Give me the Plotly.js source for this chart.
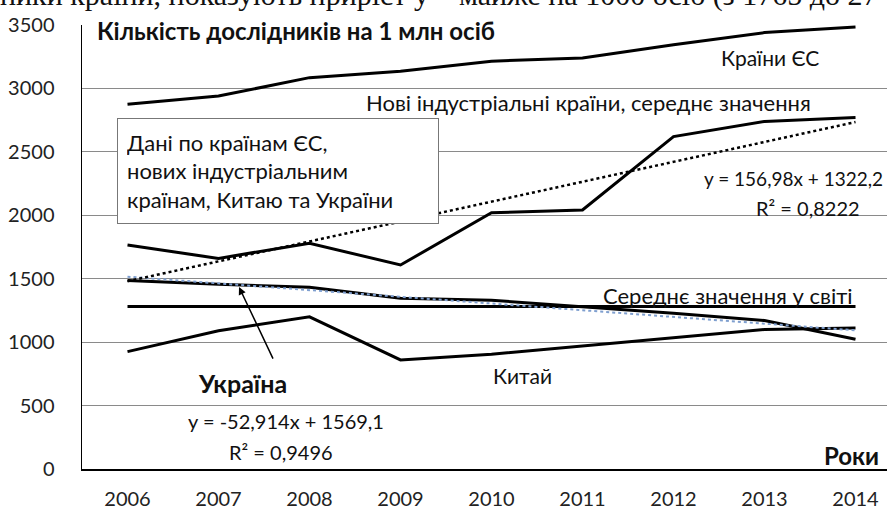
<!DOCTYPE html>
<html>
<head>
<meta charset="utf-8">
<script src="https://cdn.plot.ly/plotly-3.0.1.min.js"></script>
<style>html,body{margin:0;padding:0;background:#fff;}#chart{width:887px;height:509px;}</style>
</head>
<body>
<div id="chart"></div>
<script>
// Data
const years = ['2006','2007','2008','2009','2010','2011','2012','2013','2014'];
const euCountries = [2875, 2940, 3085, 3135, 3215, 3240, 3345, 3440, 3485];
const newIndustrial = [1765, 1660, 1780, 1608, 2020, 2042, 2620, 2740, 2770];
const worldAverage = [1280, 1280, 1280, 1280, 1280, 1280, 1280, 1280, 1280];
const ukraine = [1485, 1456, 1433, 1346, 1330, 1280, 1228, 1170, 1023];
const china = [925, 1090, 1200, 860, 905, 970, 1035, 1100, 1112];
// trend line end points
const trendYears = ['2006', '2014'];
const newIndustrialTrend = [1480, 2735];
const ukraineTrend = [1516, 1093];
const yTicks = [0, 500, 1000, 1500, 2000, 2500, 3000, 3500];
const yGrid = [500, 1000, 1500, 2000, 2500, 3000];

const FONT = 'Lato, "Open Sans", sans-serif';
const W = 887, H = 509, L = 82, R = 0, T = 25, B = 40;
const pw = W - L - R, ph = H - T - B;
const px = v => (v - L) / pw;
const py = v => (H - B - v) / ph;

const solid = (y, name) => ({x: years, y: y, name: name, type: 'scatter', mode: 'lines',
  line: {color: '#000', width: 3}, hoverinfo: 'skip'});

const traces = [
  // invisible carrier for the grid axis
  {x: years, y: worldAverage, yaxis: 'y2', type: 'scatter', mode: 'lines',
    line: {color: 'rgba(0,0,0,0)', width: 0}, hoverinfo: 'skip'},
  solid(worldAverage, 'Середнє значення у світі'),
  solid(china, 'Китай'),
  solid(ukraine, 'Україна'),
  {x: trendYears, y: ukraineTrend, type: 'scatter', mode: 'lines', name: 'Тренд Україна',
    line: {color: '#7f9fcf', width: 2, dash: 'dot'}, hoverinfo: 'skip'},
  solid(newIndustrial, 'Нові індустріальні країни, середнє значення'),
  {x: trendYears, y: newIndustrialTrend, type: 'scatter', mode: 'lines', name: 'Тренд НІК',
    line: {color: '#000', width: 2.5, dash: 'dot'}, hoverinfo: 'skip'},
  solid(euCountries, 'Країни ЄС')
];

const txt = (text, x, y, opts) => Object.assign({
  text: text, xref: 'paper', yref: 'paper', x: px(x), y: py(y),
  xanchor: 'center', yanchor: 'middle', showarrow: false,
  font: {family: FONT, size: 20, color: '#111'}
}, opts || {});
const f = (size) => ({family: FONT, size: size, color: '#111'});

const annotations = [
  txt('ники країни, показують приріст у – майже на 1000 осіб (з 1765 до 27', -2, -5,
      {xanchor: 'left', font: {family: '"Liberation Serif", serif', size: 30, color: '#111'}}),
  txt('<b>Кількість дослідників на 1 млн осіб</b>', 95, 31, {xanchor: 'left', font: f(24)}),
  txt('Країни ЄС', 770, 57, {font: f(21)}),
  txt('Нові індустріальні країни, середнє значення', 588, 103, {font: f(22)}),
  txt('Дані по країнам ЄС,<br>нових індустріальним<br>країнам, Китаю та України', 277.5, 170.5,
      {align: 'left', width: 302, height: 86, borderpad: 9, bordercolor: '#777', borderwidth: 1,
       bgcolor: '#fff', font: f(22)}),
  txt('y = 156,98x + 1322,2', 793.5, 178, {font: f(19)}),
  txt('R² = 0,8222', 807.5, 208, {font: f(20)}),
  txt('Середнє значення у світі', 728, 295, {font: f(22)}),
  txt('Китай', 522, 375, {font: f(21)}),
  txt('<b>Україна</b>', 242.5, 383, {font: f(25)}),
  txt(' ', 239, 287, {showarrow: true, arrowhead: 2, arrowsize: 1, arrowwidth: 1.5, arrowcolor: '#000',
      axref: 'pixel', ayref: 'pixel', ax: 38, ay: 80, standoff: 0}),
  txt('y = -52,914x + 1569,1', 286, 421, {font: f(20)}),
  txt('R² = 0,9496', 281, 452, {font: f(20)}),
  txt('<b>Роки</b>', 851.5, 455, {font: f(24)})
];

const layout = {
  width: W, height: H,
  margin: {l: L, r: R, t: T, b: B, pad: 0},
  paper_bgcolor: '#fff', plot_bgcolor: '#fff',
  showlegend: false,
  font: {family: FONT, size: 20, color: '#222'},
  xaxis: {type: 'category', range: [-0.5, 8.346], showgrid: false, zeroline: false,
    showline: true, linecolor: '#000', linewidth: 2, ticks: '', ticklabelstandoff: 11,
    tickfont: {family: FONT, size: 20, color: '#222'}, fixedrange: true},
  yaxis: {range: [0, 3500], tickvals: yTicks, showgrid: false,
    zeroline: false, showline: true, linecolor: '#000', linewidth: 1.5, ticks: '',
    ticklabelstandoff: 22, tickfont: {family: FONT, size: 20, color: '#222'}, fixedrange: true},
  yaxis2: {overlaying: 'y', side: 'left', range: [0, 3500], tickvals: yGrid, showgrid: true,
    gridcolor: '#8a8a8a', gridwidth: 1, showticklabels: false, showline: false, zeroline: false,
    ticks: '', fixedrange: true},
  annotations: annotations
};

Plotly.newPlot('chart', traces, layout, {displayModeBar: false, staticPlot: true});
</script>
</body>
</html>
